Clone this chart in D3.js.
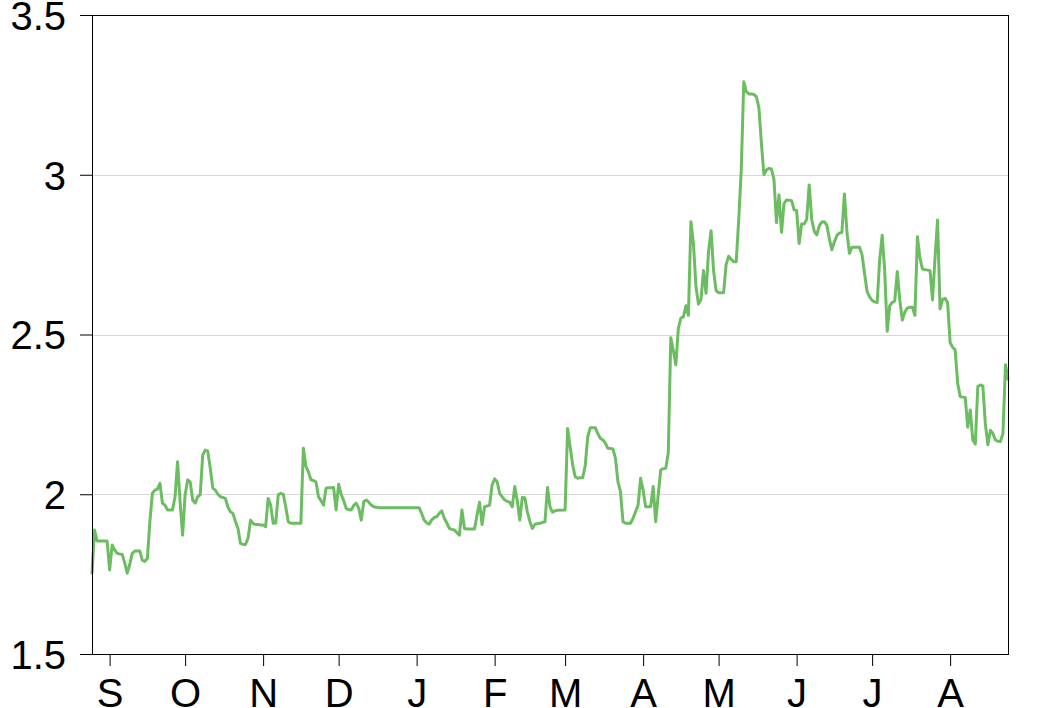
<!DOCTYPE html>
<html>
<head>
<meta charset="utf-8">
<script src="https://cdn.jsdelivr.net/npm/d3@7"></script>
<style>
  html, body { margin: 0; padding: 0; background: #ffffff; overflow: hidden; }
  svg { display: block; }
</style>
</head>
<body>
<svg id="chart" width="1040" height="708"></svg>
<script>
// ---------- data ----------
const dates = [
  // Aug 2018
  "2018-08-25","2018-08-26","2018-08-27","2018-08-31",
  // Sep
  "2018-09-01","2018-09-02","2018-09-03","2018-09-04","2018-09-05","2018-09-06","2018-09-07","2018-09-08","2018-09-09","2018-09-10",
  "2018-09-11","2018-09-12","2018-09-13","2018-09-14","2018-09-15","2018-09-16","2018-09-17","2018-09-18","2018-09-19","2018-09-20",
  "2018-09-21","2018-09-22","2018-09-23","2018-09-24","2018-09-25","2018-09-26","2018-09-27","2018-09-28","2018-09-29","2018-09-30",
  // Oct
  "2018-10-01","2018-10-02","2018-10-03","2018-10-04","2018-10-05","2018-10-06","2018-10-07","2018-10-08","2018-10-09","2018-10-10",
  "2018-10-11","2018-10-12","2018-10-13","2018-10-14","2018-10-15","2018-10-16","2018-10-17","2018-10-18","2018-10-19","2018-10-20",
  "2018-10-21","2018-10-22","2018-10-23","2018-10-24","2018-10-25","2018-10-26","2018-10-27","2018-10-28","2018-10-29","2018-10-30","2018-10-31",
  // Nov
  "2018-11-01","2018-11-02","2018-11-03","2018-11-04","2018-11-05","2018-11-06","2018-11-07","2018-11-08","2018-11-09","2018-11-10",
  "2018-11-11","2018-11-12","2018-11-16","2018-11-17","2018-11-18","2018-11-19","2018-11-20","2018-11-21","2018-11-22","2018-11-23",
  "2018-11-24","2018-11-25","2018-11-26","2018-11-27","2018-11-28","2018-11-29","2018-11-30",
  // Dec
  "2018-12-01","2018-12-02","2018-12-03","2018-12-04","2018-12-05","2018-12-06","2018-12-07","2018-12-08","2018-12-09","2018-12-10",
  "2018-12-11","2018-12-12","2018-12-13","2018-12-14","2018-12-15","2018-12-16","2018-12-17",
  // Jan 2019
  "2019-01-02","2019-01-03","2019-01-04","2019-01-05","2019-01-06","2019-01-07","2019-01-08","2019-01-09","2019-01-10","2019-01-11",
  "2019-01-12","2019-01-13","2019-01-14","2019-01-15","2019-01-16","2019-01-17","2019-01-18","2019-01-19","2019-01-20","2019-01-21",
  "2019-01-24","2019-01-25","2019-01-26","2019-01-27","2019-01-28","2019-01-29","2019-01-30","2019-01-31",
  // Feb
  "2019-02-01","2019-02-02","2019-02-03","2019-02-04","2019-02-05","2019-02-06","2019-02-07","2019-02-08","2019-02-09","2019-02-10",
  "2019-02-11","2019-02-12","2019-02-13","2019-02-14","2019-02-15","2019-02-16","2019-02-17","2019-02-18","2019-02-19","2019-02-20",
  "2019-02-21","2019-02-22","2019-02-23","2019-02-24","2019-02-25","2019-02-26",
  // Mar
  "2019-03-01","2019-03-02","2019-03-03","2019-03-04","2019-03-05","2019-03-06","2019-03-07","2019-03-08","2019-03-09","2019-03-10",
  "2019-03-11","2019-03-12","2019-03-13","2019-03-14","2019-03-15","2019-03-16","2019-03-17","2019-03-18","2019-03-19","2019-03-20",
  "2019-03-21","2019-03-22","2019-03-23","2019-03-24","2019-03-25","2019-03-27","2019-03-28","2019-03-29","2019-03-30","2019-03-31",
  // Apr
  "2019-04-01","2019-04-02","2019-04-04","2019-04-05","2019-04-06","2019-04-07","2019-04-08","2019-04-09","2019-04-10","2019-04-11",
  "2019-04-12","2019-04-13","2019-04-14","2019-04-15","2019-04-16","2019-04-17","2019-04-18","2019-04-19","2019-04-20","2019-04-21",
  "2019-04-22","2019-04-23","2019-04-24","2019-04-25","2019-04-26","2019-04-27","2019-04-28","2019-04-29","2019-04-30",
  // May
  "2019-05-01","2019-05-03","2019-05-04","2019-05-05","2019-05-06","2019-05-07","2019-05-08","2019-05-09","2019-05-10","2019-05-11",
  "2019-05-12","2019-05-13","2019-05-14","2019-05-15","2019-05-16","2019-05-17","2019-05-18","2019-05-19","2019-05-20","2019-05-21",
  "2019-05-22","2019-05-23","2019-05-24","2019-05-25","2019-05-26","2019-05-27","2019-05-28","2019-05-29","2019-05-30","2019-05-31",
  // Jun
  "2019-06-01","2019-06-02","2019-06-03","2019-06-04","2019-06-05","2019-06-06","2019-06-07","2019-06-08","2019-06-09","2019-06-10",
  "2019-06-11","2019-06-12","2019-06-13","2019-06-14","2019-06-15","2019-06-16","2019-06-17","2019-06-18","2019-06-19","2019-06-20",
  "2019-06-21","2019-06-22","2019-06-23","2019-06-26","2019-06-27","2019-06-28","2019-06-29","2019-06-30",
  // Jul
  "2019-07-01","2019-07-02","2019-07-03","2019-07-04","2019-07-05","2019-07-06","2019-07-07","2019-07-08","2019-07-09","2019-07-10",
  "2019-07-11","2019-07-12","2019-07-13","2019-07-14","2019-07-15","2019-07-16","2019-07-17","2019-07-18","2019-07-19","2019-07-20",
  "2019-07-21","2019-07-22","2019-07-24","2019-07-25","2019-07-26","2019-07-27","2019-07-28","2019-07-29","2019-07-30","2019-07-31",
  // Aug 2019
  "2019-08-01","2019-08-02","2019-08-03","2019-08-04","2019-08-05","2019-08-06","2019-08-07","2019-08-08","2019-08-09","2019-08-10",
  "2019-08-11","2019-08-12","2019-08-13","2019-08-14","2019-08-15","2019-08-16","2019-08-17","2019-08-18","2019-08-19","2019-08-20",
  "2019-08-21","2019-08-22","2019-08-23","2019-08-24"
];

const values = [
  // Aug 2018
  1.753, 1.888, 1.854, 1.854,
  // Sep
  1.763, 1.841, 1.826, 1.815, 1.813, 1.812, 1.785, 1.753, 1.780, 1.815,
  1.822, 1.822, 1.822, 1.794, 1.790, 1.799, 1.914, 2.003, 2.013, 2.016,
  2.034, 1.972, 1.966, 1.951, 1.951, 1.951, 1.992, 2.102, 1.977, 1.872,
  // Oct
  1.998, 2.045, 2.039, 1.982, 1.972, 1.992, 1.998, 2.123, 2.138, 2.135,
  2.081, 2.019, 2.013, 2.000, 1.992, 1.990, 1.987, 1.960, 1.945, 1.940,
  1.915, 1.893, 1.846, 1.843, 1.843, 1.862, 1.919, 1.909, 1.905, 1.905, 1.904,
  // Nov
  1.904, 1.898, 1.987, 1.966, 1.909, 1.910, 1.998, 2.003, 2.000, 1.960,
  1.914, 1.909, 1.909, 2.144, 2.087, 2.070, 2.045, 2.043, 2.039, 1.992,
  1.980, 1.966, 2.019, 2.020, 2.020, 2.021, 1.951,
  // Dec
  2.031, 2.000, 1.980, 1.956, 1.952, 1.951, 1.965, 1.972, 1.956, 1.919,
  1.977, 1.982, 1.975, 1.966, 1.961, 1.959, 1.958,
  // Jan 2019
  1.958, 1.940, 1.919, 1.910, 1.906, 1.920, 1.927, 1.930, 1.940, 1.948,
  1.925, 1.910, 1.893, 1.890, 1.888, 1.880, 1.872, 1.951, 1.893, 1.891,
  1.891, 1.935, 1.975, 1.905, 1.961, 1.963, 1.966, 2.029,
  // Feb
  2.048, 2.039, 2.003, 1.992, 1.982, 1.978, 1.975, 1.961, 2.024, 1.980,
  1.919, 1.990, 1.989, 1.945, 1.915, 1.893, 1.906, 1.908, 1.909, 1.912,
  1.914, 2.021, 1.960, 1.944, 1.948, 1.950,
  // Mar
  1.951, 2.206, 2.149, 2.092, 2.055, 2.050, 2.052, 2.052, 2.090, 2.180,
  2.208, 2.208, 2.208, 2.190, 2.175, 2.170, 2.160, 2.144, 2.143, 2.142,
  2.113, 2.039, 2.008, 1.914, 1.909, 1.909, 1.925, 1.945, 1.966, 2.050,
  // Apr
  2.013, 1.961, 1.961, 2.024, 1.914, 1.998, 2.076, 2.080, 2.081, 2.130,
  2.490, 2.450, 2.405, 2.519, 2.551, 2.555, 2.590, 2.560, 2.853, 2.785,
  2.650, 2.595, 2.610, 2.700, 2.629, 2.760, 2.825, 2.700, 2.637,
  // May
  2.631, 2.631, 2.720, 2.745, 2.735, 2.728, 2.728, 2.860, 3.015, 3.291,
  3.260, 3.253, 3.253, 3.251, 3.245, 3.210, 3.100, 3.000, 3.015, 3.020,
  3.018, 2.985, 2.850, 2.937, 2.820, 2.910, 2.921, 2.920, 2.919, 2.890,
  // Jun
  2.888, 2.785, 2.846, 2.846, 2.860, 2.968, 2.860, 2.823, 2.812, 2.840,
  2.852, 2.853, 2.842, 2.800, 2.765, 2.790, 2.810, 2.817, 2.820, 2.940,
  2.820, 2.754, 2.773, 2.773, 2.750, 2.690, 2.635, 2.618,
  // Jul
  2.607, 2.602, 2.600, 2.733, 2.811, 2.700, 2.510, 2.590, 2.600, 2.605,
  2.697, 2.608, 2.545, 2.570, 2.583, 2.585, 2.585, 2.560, 2.806, 2.740,
  2.705, 2.703, 2.700, 2.608, 2.740, 2.858, 2.580, 2.610, 2.613, 2.600,
  // Aug 2019
  2.475, 2.460, 2.452, 2.347, 2.306, 2.304, 2.303, 2.210, 2.264, 2.170,
  2.157, 2.337, 2.342, 2.339, 2.220, 2.155, 2.200, 2.190, 2.170, 2.166,
  2.165, 2.190, 2.405, 2.360
];

const yTicks = [1.5, 2, 2.5, 3, 3.5];
const yTickLabels = ["1.5", "2", "2.5", "3", "3.5"];
const gridValues = [2, 2.5, 3];
const monthLabels = ["S", "O", "N", "D", "J", "F", "M", "A", "M", "J", "J", "A"];
const xDomain = ["2018-08-25", "2019-08-24"];

// ---------- layout ----------
const W = 1040, H = 708;
const margin = { left: 92, right: 32, top: 15, bottom: 54 };
const plotW = W - margin.left - margin.right;   // 916
const plotH = H - margin.top - margin.bottom;   // 639
const FONT = "'Liberation Sans', Arial, Helvetica, sans-serif";
const LINE_COLOR = "#6cbd61";

const parse = d3.timeParse("%Y-%m-%d");
const series = dates.map((d, i) => ({ date: parse(d), value: values[i] }));

const svg = d3.select("#chart");
const g = svg.append("g").attr("transform", `translate(${margin.left},${margin.top})`);

const x = d3.scaleTime()
  .domain(xDomain.map(parse))
  .range([0, plotW]);
const y = d3.scaleLinear()
  .domain([1.5, 3.5])
  .range([plotH, 0]);

// grid lines
g.append("g").selectAll("line")
  .data(gridValues)
  .join("line")
  .attr("x1", 0).attr("x2", plotW)
  .attr("y1", d => Math.round(y(d)) + 0.5)
  .attr("y2", d => Math.round(y(d)) + 0.5)
  .attr("stroke", "#d9d9d9")
  .attr("stroke-width", 1);

// line
const line = d3.line()
  .x(d => x(d.date))
  .y(d => y(d.value));

g.append("path")
  .datum(series)
  .attr("fill", "none")
  .attr("stroke", LINE_COLOR)
  .attr("stroke-width", 3)
  .attr("stroke-linejoin", "round")
  .attr("stroke-linecap", "round")
  .attr("d", line);

// frame
g.append("rect")
  .attr("x", 0.5).attr("y", 0.5)
  .attr("width", plotW).attr("height", plotH)
  .attr("fill", "none")
  .attr("stroke", "#000")
  .attr("stroke-width", 1);

// y axis
const yAxis = d3.axisLeft(y)
  .tickValues(yTicks)
  .tickSize(12)
  .tickPadding(14)
  .tickFormat((d, i) => yTickLabels[i]);
const yg = g.append("g").call(yAxis);
yg.select(".domain").remove();
yg.selectAll(".tick line").attr("stroke", "#000");
yg.selectAll(".tick text")
  .attr("fill", "#000")
  .style("font-family", FONT)
  .style("font-size", "40px")
  .attr("dy", "0.36em");

// x axis
const monthStarts = d3.timeMonth.range(d3.timeMonth.ceil(x.domain()[0]), x.domain()[1]);
const xAxis = d3.axisBottom(x)
  .tickValues(monthStarts)
  .tickSize(12)
  .tickPadding(0)
  .tickFormat((d, i) => monthLabels[i]);
const xg = g.append("g").attr("transform", `translate(0,${plotH})`).call(xAxis);
xg.select(".domain").remove();
xg.selectAll(".tick line").attr("stroke", "#000");
xg.selectAll(".tick text")
  .attr("fill", "#000")
  .style("font-family", FONT)
  .style("font-size", "40px")
  .attr("y", 53)
  .attr("dy", 0);
</script>
</body>
</html>
